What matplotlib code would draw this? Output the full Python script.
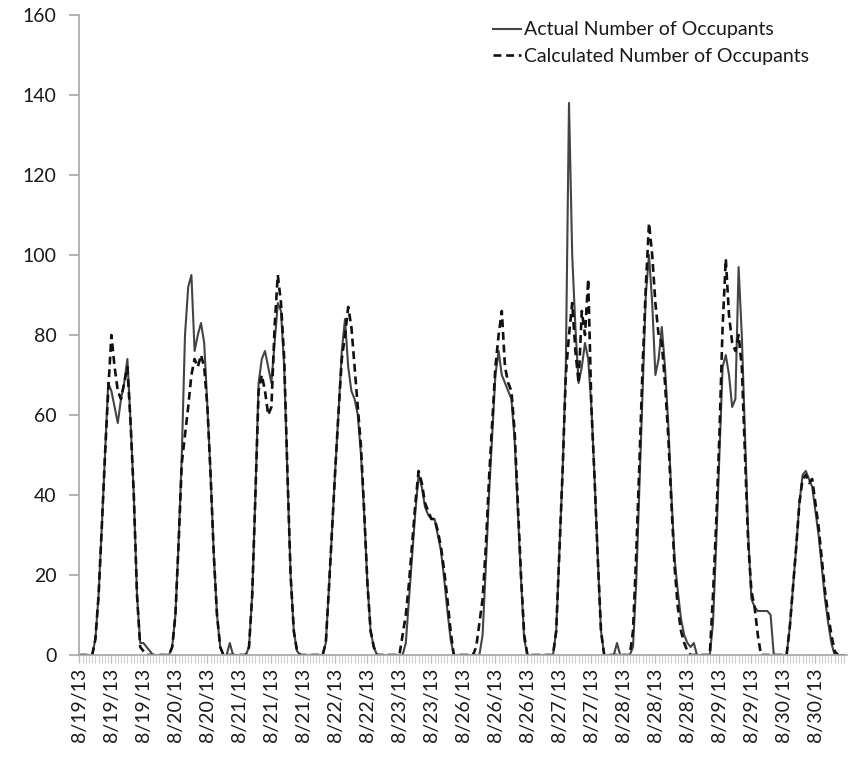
import matplotlib
matplotlib.use('Agg')
import matplotlib.pyplot as plt
import numpy as np

plt.rcParams['font.family'] = ['Lato', 'DejaVu Sans']

# ── Dados: ocupantes por hora (24 valores por dia) ────────────────────────────

days = ['8/19/13', '8/20/13', '8/21/13', '8/22/13', '8/23/13',
        '8/26/13', '8/27/13', '8/28/13', '8/29/13', '8/30/13']

actual = [
    [0, 0, 0, 0, 0, 4, 15, 32, 50, 68, 66, 62, 58, 64, 68, 74, 58, 40, 15, 3, 3, 2, 1, 0],
    [0, 0, 0, 0, 0, 2, 10, 28, 50, 80, 92, 95, 76, 80, 83, 78, 62, 45, 25, 10, 2, 0, 0, 3],
    [0, 0, 0, 0, 0, 2, 15, 40, 68, 74, 76, 72, 68, 78, 88, 86, 72, 45, 20, 6, 1, 0, 0, 0],
    [0, 0, 0, 0, 0, 3, 17, 32, 47, 61, 76, 84, 72, 66, 64, 60, 50, 35, 18, 6, 2, 0, 0, 0],
    [0, 0, 0, 0, 0, 0, 3, 14, 25, 36, 45, 42, 37, 35, 34, 34, 30, 26, 19, 11, 4, 0, 0, 0],
    [0, 0, 0, 0, 0, 0, 5, 22, 40, 55, 70, 76, 70, 68, 66, 64, 54, 36, 19, 4, 0, 0, 0, 0],
    [0, 0, 0, 0, 0, 6, 26, 46, 72, 138, 100, 82, 68, 72, 78, 74, 62, 44, 24, 6, 0, 0, 0, 0],
    [3, 0, 0, 0, 0, 2, 18, 42, 66, 90, 100, 88, 70, 74, 82, 72, 58, 40, 24, 16, 9, 5, 3, 2],
    [3, 0, 0, 0, 0, 0, 8, 28, 50, 72, 75, 70, 62, 64, 97, 80, 55, 30, 14, 12, 11, 11, 11, 11],
    [10, 0, 0, 0, 0, 0, 7, 17, 27, 38, 45, 46, 44, 42, 36, 30, 22, 14, 8, 3, 0, 0, 0, 0],
]

calculated = [
    [0, 0, 0, 0, 0, 4, 15, 32, 50, 66, 80, 72, 66, 64, 68, 72, 58, 40, 15, 2, 1, 0, 0, 0],
    [0, 0, 0, 0, 0, 2, 10, 28, 48, 55, 62, 70, 74, 72, 75, 72, 62, 45, 25, 10, 2, 0, 0, 0],
    [0, 0, 0, 0, 0, 2, 15, 40, 66, 70, 66, 60, 62, 82, 95, 88, 74, 46, 20, 6, 1, 0, 0, 0],
    [0, 0, 0, 0, 0, 3, 17, 32, 47, 61, 74, 80, 87, 82, 72, 62, 52, 36, 18, 6, 2, 0, 0, 0],
    [0, 0, 0, 0, 0, 5, 10, 18, 28, 38, 46, 43, 38, 36, 34, 34, 31, 27, 21, 14, 6, 0, 0, 0],
    [0, 0, 0, 0, 2, 8, 14, 27, 44, 58, 72, 80, 86, 72, 68, 66, 56, 38, 20, 5, 0, 0, 0, 0],
    [0, 0, 0, 0, 0, 6, 26, 46, 70, 80, 88, 76, 68, 86, 80, 94, 62, 44, 24, 6, 0, 0, 0, 0],
    [0, 0, 0, 0, 0, 6, 25, 48, 72, 92, 108, 100, 88, 80, 78, 68, 55, 38, 22, 12, 6, 3, 1, 0],
    [0, 0, 0, 0, 0, 0, 15, 33, 55, 82, 99, 85, 78, 76, 80, 72, 50, 28, 16, 12, 5, 0, 0, 0],
    [0, 0, 0, 0, 0, 0, 7, 17, 27, 38, 44, 45, 43, 44, 38, 32, 24, 16, 10, 5, 1, 0, 0, 0],
]

# rotulo do eixo x a cada 10 horas
tick_labels = ['8/19/13', '8/19/13', '8/19/13', '8/20/13', '8/20/13', '8/21/13',
               '8/21/13', '8/21/13', '8/22/13', '8/22/13', '8/23/13', '8/23/13',
               '8/26/13', '8/26/13', '8/26/13', '8/27/13', '8/27/13', '8/28/13',
               '8/28/13', '8/28/13', '8/29/13', '8/29/13', '8/30/13', '8/30/13']

act = np.concatenate(actual)
cal = np.concatenate(calculated)
hours = np.arange(len(act))

AXIS_GRAY = '#a6a6a6'
TEXT_COLOR = '#1a1a1a'

fig = plt.figure(figsize=(8.5, 7.57), dpi=100)
ax = fig.add_axes([79/850, 102/757, 768/850, 640/757])

ax.plot(hours, act, color='#444444', linewidth=1.5, label='Actual Number of Occupants')
ax.plot(hours, cal, color='#111111', linewidth=1.9, dashes=(3.0, 1.8),
        label='Calculated Number of Occupants')

ax.set_xlim(-0.125, len(act) - 0.125)
ax.set_ylim(0, 160)
ax.set_yticks(np.arange(0, 161, 20))
ax.set_xticks(hours[::10])
ax.set_xticklabels(tick_labels, rotation=90)
ax.set_xticks(hours, minor=True)

for s in ['top', 'right']:
    ax.spines[s].set_visible(False)
for s in ['left', 'bottom']:
    ax.spines[s].set_color(AXIS_GRAY)
    ax.spines[s].set_linewidth(1.2)

ax.tick_params(axis='y', direction='out', length=7, width=1.2, color=AXIS_GRAY,
               labelsize=14, pad=9, labelcolor=TEXT_COLOR)
ax.tick_params(axis='x', which='major', direction='out', length=6, width=1.0,
               color='#bdbdbd', labelsize=14, pad=3, labelcolor=TEXT_COLOR)
ax.tick_params(axis='x', which='minor', direction='out', length=6, width=0.8,
               color='#cfcfcf')

ax.legend(loc='upper left', bbox_to_anchor=(0.539, 0.990), frameon=False,
          fontsize=14, handlelength=1.45, handletextpad=0.15, borderpad=0,
          labelspacing=0.5, borderaxespad=0, labelcolor=TEXT_COLOR)

fig.savefig('out.png', dpi=100)
